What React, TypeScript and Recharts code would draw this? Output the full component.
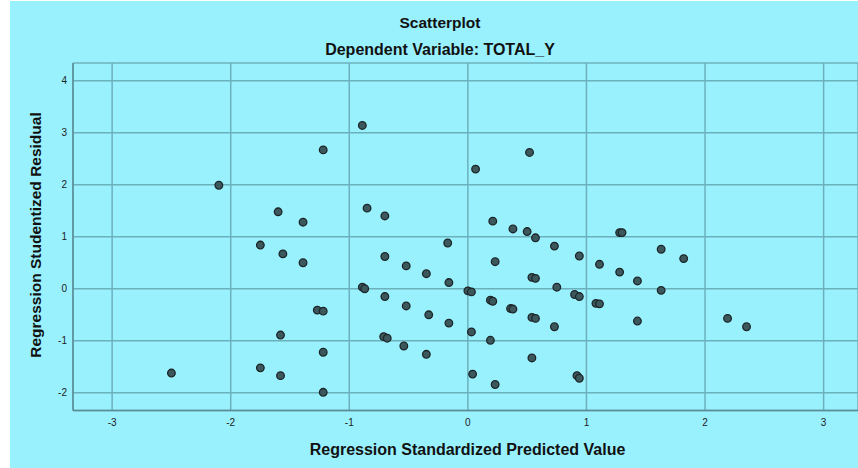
import React from "react";
import { ScatterChart, Scatter, XAxis, YAxis, CartesianGrid } from "recharts";

const predicted: number[] = [
  -2.5, -2.1, -1.75, -1.75, -1.6, -1.58, -1.58, -1.56, -1.39, -1.39,
  -1.27, -1.22, -1.22, -1.22, -1.22, -0.89, -0.89, -0.87, -0.85, -0.7,
  -0.7, -0.7, -0.71, -0.68, -0.54, -0.52, -0.52, -0.35, -0.33, -0.35,
  -0.17, -0.16, -0.16, 0.0, 0.03, 0.03, 0.04, 0.065, 0.23, 0.19,
  0.21, 0.19, 0.23, 0.21, 0.36, 0.38, 0.38, 0.5, 0.52, 0.57,
  0.54, 0.57, 0.54, 0.57, 0.54, 0.73, 0.75, 0.73, 0.94, 0.9,
  0.94, 0.92, 0.94, 1.11, 1.08, 1.11, 1.28, 1.3, 1.28, 1.43,
  1.43, 1.63, 1.63, 1.82, 2.19, 2.35,
];
const residual: number[] = [
  -1.62, 1.99, 0.84, -1.52, 1.48, -0.89, -1.67, 0.67, 1.28, 0.5,
  -0.41, -0.43, -1.22, -1.99, 2.67, 3.14, 0.03, 0.0, 1.55, 1.4,
  0.62, -0.15, -0.92, -0.95, -1.1, 0.44, -0.33, 0.29, -0.5, -1.26,
  0.88, 0.12, -0.66, -0.04, -0.06, -0.83, -1.64, 2.3, 0.52, -0.22,
  -0.24, -0.99, -1.84, 1.3, -0.38, -0.39, 1.15, 1.1, 2.62, 0.98,
  0.22, 0.2, -0.55, -0.57, -1.33, 0.82, 0.03, -0.73, 0.63, -0.11,
  -0.15, -1.67, -1.72, 0.47, -0.28, -0.29, 1.08, 1.08, 0.32, 0.15,
  -0.62, 0.76, -0.03, 0.58, -0.57, -0.73,
];
const xTicks: number[] = [-3, -2, -1, 0, 1, 2, 3];
const yTicks: number[] = [-2, -1, 0, 1, 2, 3, 4];

const title = "Scatterplot";
const subtitle = "Dependent Variable: TOTAL_Y";
const xLabel = "Regression Standardized Predicted Value";
const yLabel = "Regression Studentized Residual";

const points = predicted.map((x, i) => ({ x, y: residual[i] }));

const FONT = '"Liberation Sans", Arial, sans-serif';
const BG = "#9af1fe";
const GRID = "#6cb0bc";
const AXIS = "#5a8c96";

const Dot = (props: any) => {
  const { cx, cy } = props;
  if (cx == null || cy == null) return null;
  return <circle cx={cx} cy={cy} r={3.8} fill="#3c585d" stroke="#1c2628" strokeWidth={1.3} />;
};

export default function App() {
  return (
    <div style={{ position: "absolute", left: 0, top: 0, width: 858, height: 468, background: "#ffffff", overflow: "hidden" }}>
      <div style={{ position: "absolute", left: 10, top: 1, width: 848, height: 467, background: BG }} />
      <div style={{ position: "absolute", left: 0, top: 0 }}>
        <ScatterChart width={858} height={468} margin={{ top: 63, right: 0, bottom: 27.5, left: 13 }}>
          <CartesianGrid stroke={GRID} strokeWidth={1.5} />
          <XAxis
            type="number"
            dataKey="x"
            domain={[-3.33, 3.29]}
            ticks={xTicks}
            allowDataOverflow
            height={30}
            tickLine={false}
            tickSize={6}
            tickMargin={2}
            axisLine={{ stroke: AXIS, strokeWidth: 1.5 }}
            tick={{ fill: "#222", fontSize: 10, fontFamily: FONT }}
          />
          <YAxis
            type="number"
            dataKey="y"
            domain={[-2.34, 4.34]}
            ticks={yTicks}
            allowDataOverflow
            width={60}
            tickLine={false}
            tickSize={4}
            tickMargin={2}
            axisLine={{ stroke: AXIS, strokeWidth: 1.5 }}
            tick={{ fill: "#222", fontSize: 10, fontFamily: FONT }}
          />
          <Scatter data={points} isAnimationActive={false} shape={<Dot />} />
        </ScatterChart>
      </div>
      <svg width={858} height={468} style={{ position: "absolute", left: 0, top: 0, pointerEvents: "none" }}>
        <text x={440} y={27.5} textAnchor="middle" fontFamily={FONT} fontWeight="bold" fontSize={15.5} fill="#111">
          {title}
        </text>
        <text x={440} y={55} textAnchor="middle" fontFamily={FONT} fontWeight="bold" fontSize={16} fill="#111">
          {subtitle}
        </text>
        <text x={467.5} y={455} textAnchor="middle" fontFamily={FONT} fontWeight="bold" fontSize={16} fill="#111">
          {xLabel}
        </text>
        <text
          transform="translate(41, 235) rotate(-90)"
          x={0}
          y={0}
          textAnchor="middle"
          fontFamily={FONT}
          fontWeight="bold"
          fontSize={15.5}
          fill="#111"
        >
          {yLabel}
        </text>
      </svg>
    </div>
  );
}
